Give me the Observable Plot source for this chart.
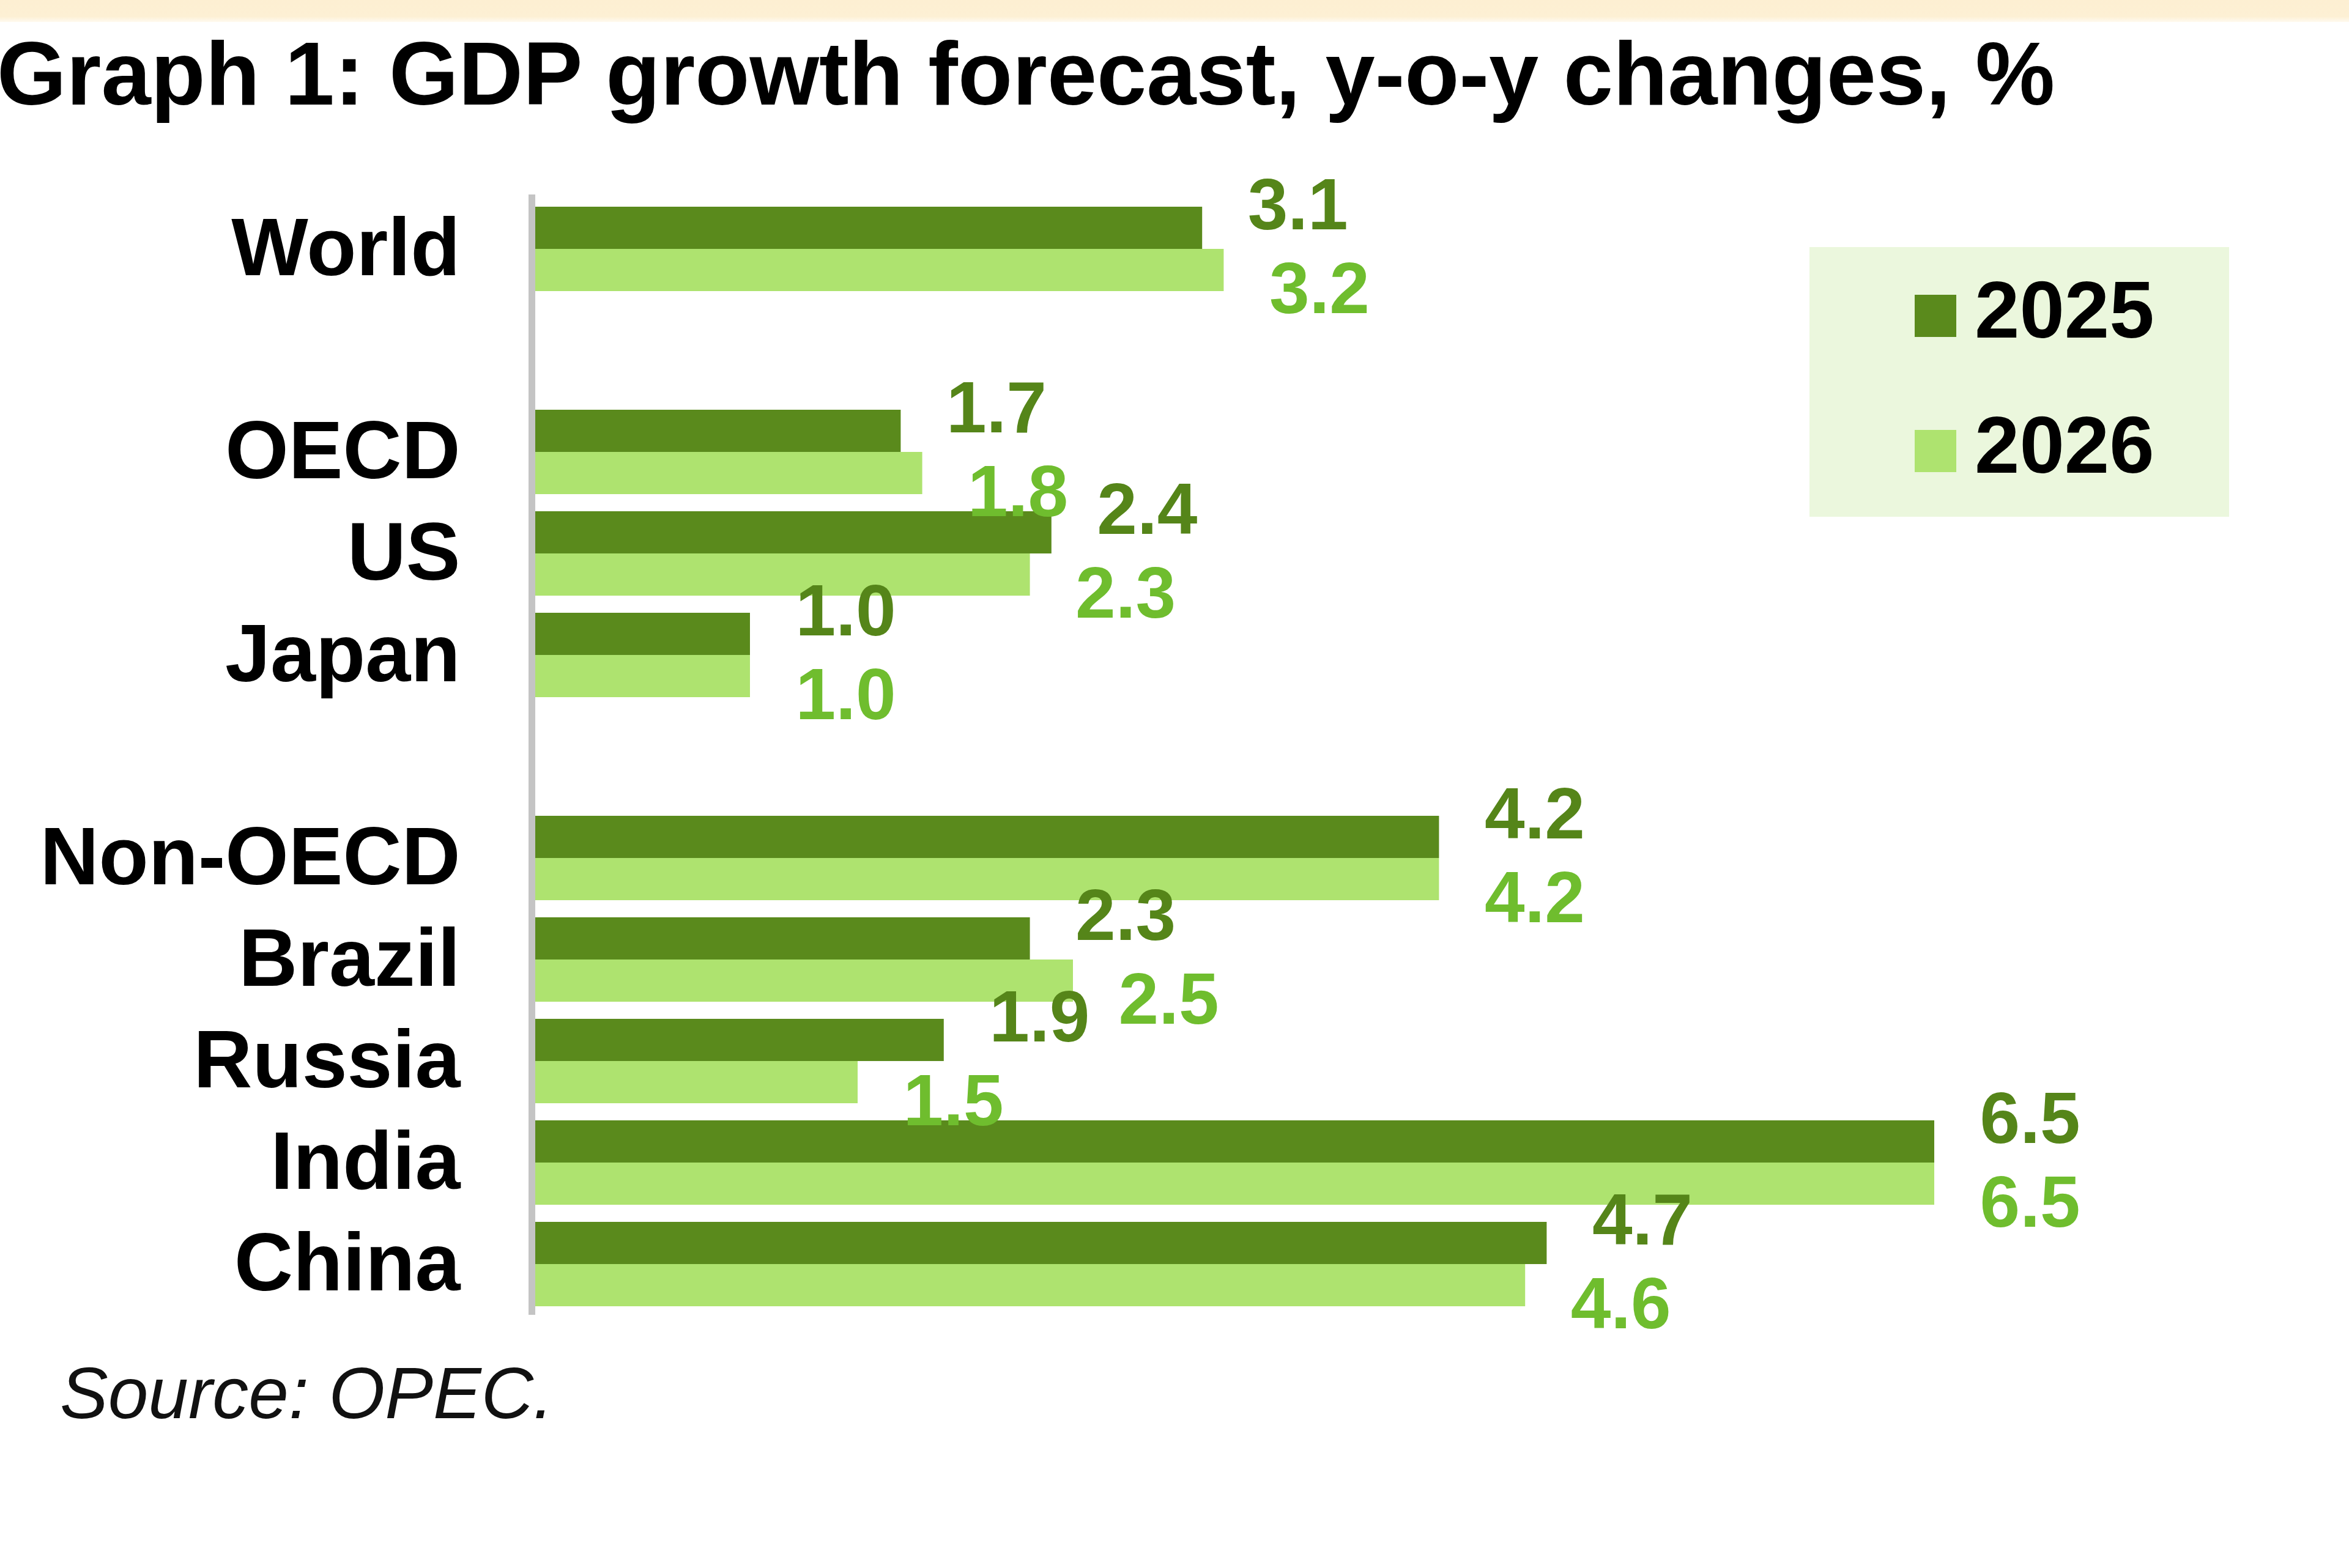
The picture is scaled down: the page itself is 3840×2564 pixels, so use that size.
<!DOCTYPE html>
<html>
<head>
<meta charset="utf-8">
<script src="https://cdn.jsdelivr.net/npm/d3@7"></script>
<script src="https://cdn.jsdelivr.net/npm/@observablehq/plot@0.6"></script>
<style>
  html, body { margin: 0; padding: 0; background: #ffffff; }
  body { width: 3840px; height: 2564px; position: relative; overflow: hidden;
         font-family: "Liberation Sans", Arial, sans-serif; color: #000; }
  #band { position: absolute; left: 0; top: 0; width: 3840px; height: 36px;
          background: linear-gradient(#fdefd2 0%, #fdf0d4 75%, #fffaf0 100%); }
  #title { position: absolute; left: -5px; top: 48px; font-size: 146px; line-height: 1;
           font-weight: bold; white-space: nowrap; color: #000; }
  #chart { position: absolute; left: 0; top: 250px; }
  #legend { position: absolute; left: 2958px; top: 404px; width: 686px; height: 441px;
            background: #ebf7dd; }
  .lg-sw { position: absolute; left: 172px; width: 68px; height: 69px; }
  .lg-tx { position: absolute; left: 270px; font-size: 132px; font-weight: bold; line-height: 1;
           color: #000; white-space: nowrap; }
  #source { position: absolute; left: 98px; top: 2219px; font-size: 118px; line-height: 1;
            font-style: italic; color: #111; white-space: nowrap; }
</style>
</head>
<body>
<div id="band"></div>
<div id="title">Graph 1: GDP growth forecast, y-o-y changes, %</div>
<div id="chart"></div>
<div id="legend"></div>
<div id="source">Source: OPEC.</div>
<script>
// ---- data ----
const categories = ["World", "OECD", "US", "Japan", "Non-OECD", "Brazil", "Russia", "India", "China"];
const years = ["2025", "2026"];
const growth2025 = [3.1, 1.7, 2.4, 1.0, 4.2, 2.3, 1.9, 6.5, 4.7];
const growth2026 = [3.2, 1.8, 2.3, 1.0, 4.2, 2.5, 1.5, 6.5, 4.6];
// category order on the axis, with two empty slots separating the groups
const slots = ["World", "gap-1", "OECD", "US", "Japan", "gap-2", "Non-OECD", "Brazil", "Russia", "India", "China"];
const barColors = ["#5a8a1c", "#aee36f"];
const labelColors = ["#558519", "#6fbd2e"];

// ---- build table ----
const rows = categories.flatMap((c, i) => [
  {category: c, year: years[0], value: growth2025[i]},
  {category: c, year: years[1], value: growth2026[i]}
]);
const rows25 = rows.filter(d => d.year === years[0]);
const rows26 = rows.filter(d => d.year === years[1]);

const W = 3840, H = 1950, mTop = 68, mBottom = 50, mLeft = 874, mRight = 150;
const pInner = 0.17, pOuter = 0.096, align = 0.59;
const bw = d3.scaleBand().domain(slots).range([mTop, H - mBottom])
  .paddingInner(pInner).paddingOuter(pOuter).align(align).bandwidth();
const fmt = d3.format(".1f");

const chart = Plot.plot({
  width: W,
  height: H,
  marginTop: mTop,
  marginBottom: mBottom,
  marginLeft: mLeft,
  marginRight: mRight,
  style: {background: "transparent", fontFamily: "'Liberation Sans', Arial, sans-serif", overflow: "visible"},
  x: {domain: [0, 8], axis: null},
  y: {domain: slots, paddingInner: pInner, paddingOuter: pOuter, align: align},
  color: {domain: years, range: barColors},
  marks: [
    Plot.barX(rows25, {x: "value", y: "category", fill: "year", insetBottom: bw / 2}),
    Plot.barX(rows26, {x: "value", y: "category", fill: "year", insetTop: bw / 2}),
    Plot.ruleX([0], {stroke: "#c4c4c4", strokeWidth: 11, dx: -5}),
    Plot.text(rows25, {x: "value", y: "category", text: d => fmt(d.value), dx: 74, dy: -bw / 4 - 36,
      textAnchor: "start", fill: labelColors[0], fontSize: 118, fontWeight: "bold"}),
    Plot.text(rows26, {x: "value", y: "category", text: d => fmt(d.value), dx: 74, dy: bw / 4 + 32,
      textAnchor: "start", fill: labelColors[1], fontSize: 118, fontWeight: "bold"}),
    Plot.axisY({tickSize: 0, tickPadding: 122, fontSize: 133, fontWeight: "bold", fill: "#000",
      label: null, tickFormat: d => categories.includes(d) ? d : ""})
  ]
});
document.getElementById("chart").appendChild(chart);

// ---- legend ----
const legend = document.getElementById("legend");
years.forEach((y, i) => {
  const sw = document.createElement("div");
  sw.className = "lg-sw";
  sw.style.top = (78 + i * 221) + "px";
  sw.style.background = barColors[i];
  legend.appendChild(sw);
  const tx = document.createElement("div");
  tx.className = "lg-tx";
  tx.style.top = (37 + i * 221) + "px";
  tx.textContent = y;
  legend.appendChild(tx);
});
</script>
</body>
</html>
